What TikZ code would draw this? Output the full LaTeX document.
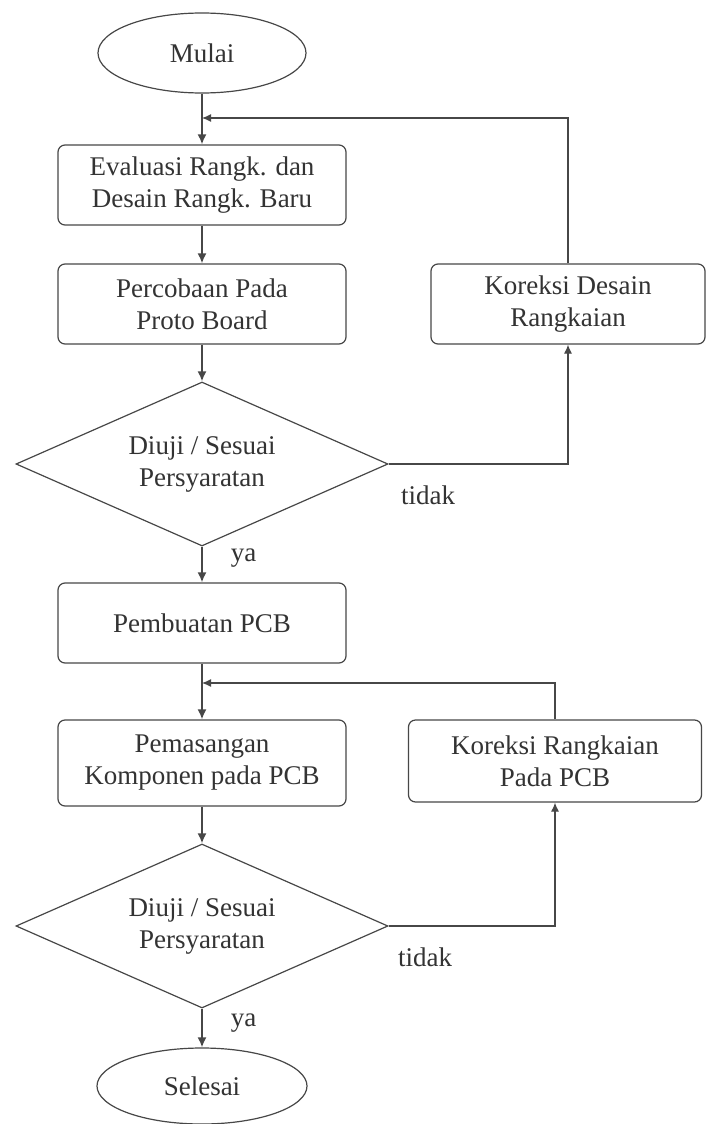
\documentclass[tikz,border=0pt]{standalone}
\usepackage{fontspec}
\setmainfont{Liberation Serif}
\usetikzlibrary{shapes.geometric,arrows.meta}
\definecolor{garis}{HTML}{474747}
\definecolor{tinta}{HTML}{333333}

\begin{document}
\begin{tikzpicture}[x=1pt,y=-1pt,
  every node/.style={font=\fontsize{27}{32}\selectfont, text=tinta},
  proses/.style={draw=garis, line width=1.2pt, rectangle, rounded corners=7pt,
    minimum width=288pt, minimum height=80pt, align=center, inner sep=0pt},
  terminal/.style={draw=garis, line width=1.2pt, ellipse,
    minimum width=208pt, minimum height=80pt, inner sep=0pt},
  keputusan/.style={draw=garis, line width=1.2pt, diamond, aspect=2.27,
    minimum width=372pt, minimum height=164pt, align=center, inner sep=0pt},
  panah/.style={-{Latex[length=10pt,width=9pt]}, draw=garis, line width=1.8pt},
  balik/.style={-{Latex[length=9pt,width=8pt]}, draw=garis, line width=1.2pt},
  ket/.style={inner sep=2pt}]
\useasboundingbox (0,0) rectangle (706,1124);
\fill[white] (0,0) rectangle (706,1124);
\node[terminal] (Mulai) at (202,53) {Mulai};
\node[proses] (Eval) at (202,185) {Evaluasi Rangk. dan\\Desain Rangk. Baru};
\node[proses] (Coba) at (202,304) {Percobaan Pada\\Proto Board};
\node[keputusan] (Uji1) at (202,464) {Diuji / Sesuai\\Persyaratan};
\node[proses, minimum width=274pt] (Koreksi1) at (568,304) {Koreksi Desain\\Rangkaian};
\node[proses] (PCB) at (202,623) {Pembuatan PCB};
\node[proses, minimum height=86pt] (Pasang) at (202,763) {Pemasangan\\Komponen pada PCB};
\node[proses, minimum width=293pt, minimum height=82pt] (Koreksi2) at (555,761) {Koreksi Rangkaian\\Pada PCB};
\node[keputusan] (Uji2) at (202,926) {Diuji / Sesuai\\Persyaratan};
\node[terminal, minimum width=210pt, minimum height=76pt] (Selesai) at (202,1086) {Selesai};
\coordinate (J1) at (202,118);
\coordinate (J2) at (202,683);
\draw[panah] (Mulai) -- (Eval);
\draw[panah] (Eval) -- (Coba);
\draw[panah] (Coba) -- (Uji1);
\draw[panah] (Uji1) -- node[pos=0.32, right=26pt, ket] (ya1) {ya} (PCB);
\draw[balik] (Uji1.east) -| node[pos=0.11, below=19pt, ket] (tidak1) {tidak} (Koreksi1.south);
\draw[balik] (Koreksi1.north) |- (J1);
\draw[panah] (PCB) -- (Pasang);
\draw[panah] (Pasang) -- (Uji2);
\draw[balik] (Uji2.east) -| node[pos=0.11, below=19pt, ket] (tidak2) {tidak} (Koreksi2.south);
\draw[balik] (Koreksi2.north) |- (J2);
\draw[panah] (Uji2) -- node[pos=0.375, right=26pt, ket] (ya2) {ya} (Selesai);
\end{tikzpicture}
\end{document}
